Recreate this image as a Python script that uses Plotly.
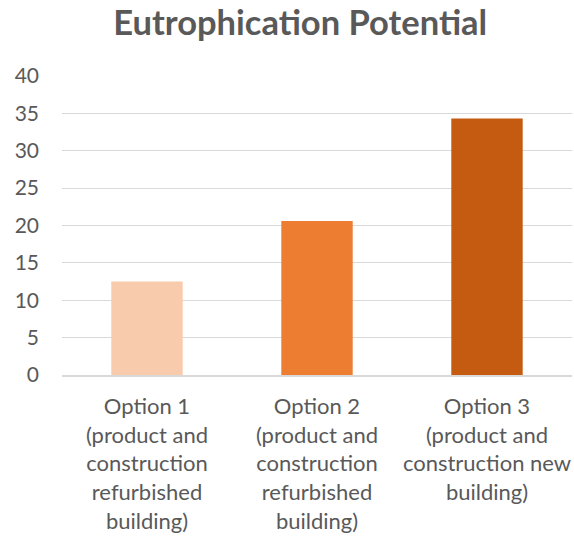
import plotly.graph_objects as go

# Eutrophication potential per option
categories = [
    "Option 1<br>(product and<br>construction<br>refurbished<br>building)",
    "Option 2<br>(product and<br>construction<br>refurbished<br>building)",
    "Option 3<br>(product and<br>construction new<br>building)",
]
values = [12.5, 20.6, 34.3]
bar_colors = ["#F8CBAD", "#ED7D31", "#C55A11"]
y_ticks = [0, 5, 10, 15, 20, 25, 30, 35, 40]

text_gray = "#595959"
grid_gray = "#D9D9D9"

fig = go.Figure(
    go.Bar(
        x=categories,
        y=values,
        marker=dict(color=bar_colors, line=dict(width=0)),
        width=0.42,
    )
)

fig.update_layout(
    width=574,
    height=539,
    margin=dict(l=62, r=2, t=76, b=164),
    paper_bgcolor="white",
    plot_bgcolor="white",
    showlegend=False,
    font=dict(family="Lato", color=text_gray, size=22),
    title=dict(
        text="<b>Eutrophication Potential</b>",
        x=0.523,
        xanchor="center",
        y=0.958,
        yanchor="middle",
        font=dict(family="Lato", size=34.5, color=text_gray),
    ),
    bargap=0.58,
)

fig.update_yaxes(
    range=[0, 40],
    tickvals=y_ticks,
    showgrid=True,
    gridcolor=grid_gray,
    gridwidth=1.3,
    zeroline=False,
    showline=False,
    ticks="",
    ticklabelstandoff=22,
    tickfont=dict(size=21, color=text_gray),
)

fig.update_xaxes(
    showline=True,
    linecolor=grid_gray,
    linewidth=1.5,
    ticks="",
    tickfont=dict(size=22, color=text_gray),
    ticklabelstandoff=11,
)

fig.write_html("out.html")
